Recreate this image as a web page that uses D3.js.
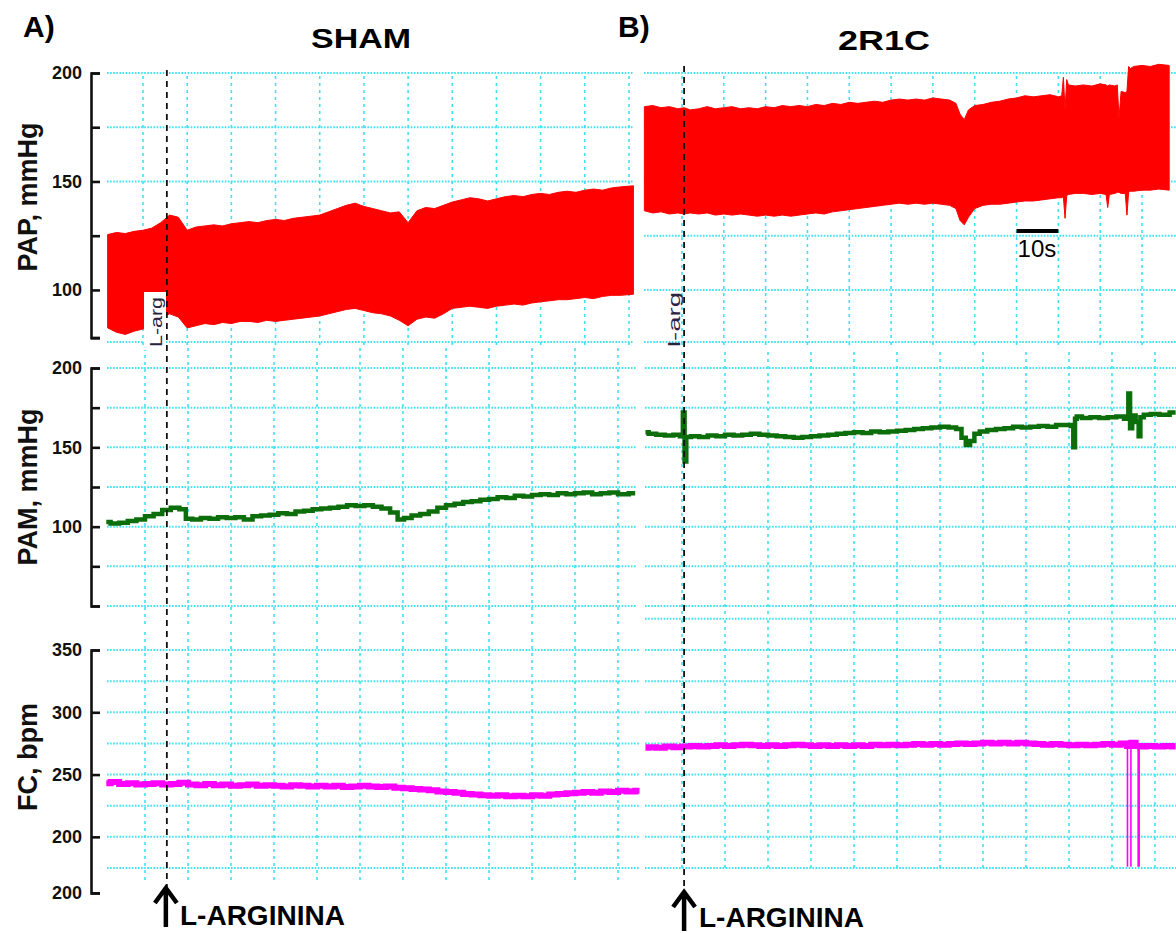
<!DOCTYPE html>
<html><head><meta charset="utf-8">
<script src="https://cdn.jsdelivr.net/npm/d3@7"></script>
<style>
html,body{margin:0;padding:0;background:#fff;}
svg{display:block;font-family:"Liberation Sans",Arial,sans-serif;}
</style></head>
<body>
<svg id="chart" width="1176" height="933"></svg>
<script>
// ---------------- DATA ----------------
// Panel A (SHAM) – PAP envelope (mmHg), time in s
const papATime  = [-8,-6,-4,-2,0,2,4,6,8,10,12,14,16,18,20,22,24,26,28,30,32,34,36,38,40,42,44,46,48,50,52,54,56,58,60,62,64,66,68,70,72,74,76,78,80,82,84,86,88,90,92,94,96,98,100,102,104,106,108,111];
const papAUpper = [125.5,126.5,126,127,127.5,128.5,131,134.5,133.5,127.5,129,129.5,130,129.5,130.5,131,131.5,131,132,132.5,132,133,133.5,134,134.5,136,137.5,139,140,138.5,137.5,136.5,135.5,136,131,136.5,138,137.5,139,140.5,141.5,142.5,142,141,142,143,143.5,143,144,144.5,144,145,145.5,145,146,146.5,146,147,147.5,148];
const papALower = [82.5,80.5,79.5,81,82,83.5,86.5,89,87.5,82.5,83.5,84.5,84,85,84.5,85.5,85.5,85,86,85.5,86,86.5,87,87.5,88,89,90,91,91.5,90.5,89.5,89,88,86,83.5,86.5,87.5,87,89,91.5,92,92.5,92,91.5,92.5,93,93.5,93,94,94.5,95,95.5,95.5,96,96.5,96,97,97.5,97.5,98];

// Panel B (2R1C) – PAP envelope
const papBTime  = [-9,-7,-5,-3,-1,0.5,2,4,6,8,10,12,14,16,18,20,22,24,26,28,30,32,34,36,38,40,42,44,46,48,50,52,54,56,58,60,62,64,65.5,66.5,67.5,68.5,70,72,74,76,78,80,82,84,86,88,90,90.8,91.2,91.6,92,92.4,94,96,98,100,101.4,101.8,102.2,103.5,104.1,104.5,105,106,106.4,106.8,107.2,108,110,112,114,116.5];
const papBUpper = [184.5,185,184,184.5,183.5,184,183,183.5,184.5,183.5,184,184.5,183.5,184,183.5,184.5,184,185,184.5,185,184.5,185.5,185,186,185.5,186.5,186,186.5,187,186.5,187.5,188,187.5,188,187.5,188.5,188,187.5,186,181,178.5,183,185,185.5,186.5,187,188,188.5,189.5,189,189.5,190,189,189.5,198,183,197,194.5,194,194.5,194,195,194.5,194,194.5,194,194.5,179,191.5,191,191.5,203,202,203,203.5,203,204,203.5];
const papBLower = [136.5,135.5,136,135,135.5,135,135.5,135,135.5,134.5,135,134.5,135,134.5,134,134.5,134,134.5,134,134.5,135,135.5,135,136,136.5,137,137.5,138,138.5,139,139.5,140,139.5,140,139.5,140,139.5,139,137.5,132,130,133.5,137.5,139,139.5,139.5,140,140.5,141,141,141.5,142,142.5,142.5,143,133,143.5,144,144.5,144.5,144,144.5,144,138,144,144.5,145,145,144.5,144.5,134.5,145,145.5,145.5,146,146,146.5,146];

// Panel A – PAM (mmHg)
const pamATime  = [-9,-7,-5,-3,-1,1,3,5,7,9,10,12,14,16,18,20,22,24,26,28,30,32,34,36,38,40,42,44,46,48,50,52,54,56,58,59.5,61,63,65,67,69,71,73,75,77,79,81,83,85,87,89,91,93,95,97,99,101,103,105,107,109,111,114];
const pamAValue = [103,102,102.5,103.5,104.5,106.5,108,110.5,112,111,105,104.5,105.5,105,106,105.5,106,104.5,106.5,107,107.5,108.5,108,109.5,110,111,111.5,112,112.5,113.5,113,113.5,112.5,111.5,109,104.5,105.5,107,108,109.5,112,113.5,114.5,115.5,116,117,117.5,118.5,118,119.5,119,120,120.5,120,121,120.5,121,121.5,120.5,121,121.5,120.5,121];

// Panel B – PAM
const pamBTime  = [-8.5,-7,-5,-3,-1,0,0.4,0.8,1.2,3,5,7,9,11,13,15,17,19,21,23,25,27,29,31,33,35,37,39,41,43,45,47,49,51,53,55,57,59,61,63,64.5,65.5,66.5,67.5,68.5,70,72,74,76,78,80,82,84,86,88,90,90.8,91.2,91.6,92,94,96,98,100,102,103.6,104,104.4,105,106,106.4,106.8,108,110,112,114.8];
const pamBValue = [159.5,158.5,158,157.5,158,157,172,141,156.5,157,156.5,157.5,157,158,157.5,158,158.5,158,157.5,157,156.5,156,156.5,157,157.5,158,158.5,159,159.5,159,160,159.5,160,160.5,161,161.5,162,162.5,163,162.5,161.5,156,151.5,154,158.5,160,161,161.5,162,163,162.5,163,163.5,163,164,164,163.5,150,168,169.5,168.5,169,168.5,169,169.5,168,184,162,170,166,157,169,170.5,171,170.5,172];

// Panel A – FC (bpm)
const fcATime  = [-9,-7,-5,-3,-1,1,3,5,7,9,11,13,15,17,19,21,23,25,27,29,31,33,35,37,39,41,43,45,47,49,51,53,55,57,59,61,63,65,67,69,71,73,75,77,79,81,83,85,87,89,91,93,95,97,99,101,103,105,107,109,111,113,115];
const fcAValue = [243,244,242.5,243,242,242.5,243,242,242.5,243.5,242,241.5,242.5,241.5,242,241,241.5,242,241,241.5,241,240.5,241.5,241,240.5,241,240.5,241,240,240.5,241,240.5,240,240.5,239.5,239,238.5,238,237.5,236.5,236,235.5,234.5,234,233.5,233,233.5,232.5,233,232.5,233.5,233,234,234.5,235,235.5,236,235.5,236.5,236,237,236.5,237];

// Panel B – FC
const fcBTime  = [-8.5,-7,-5,-3,-1,1,3,5,7,9,11,13,15,17,19,21,23,25,27,29,31,33,35,37,39,41,43,45,47,49,51,53,55,57,59,61,63,65,67,69,71,73,75,77,79,81,83,85,87,89,91,93,95,97,99,101,103,104,105,106,107,109,111,113,114.8];
const fcBValue = [271.5,272,271.5,272.5,272,272.5,273,272.5,273,273.5,273,273.5,274,273.5,273,273.5,273,273.5,274,273.5,273,273.5,273,273.5,273,273.5,273,274,273.5,274,273.5,274,274.5,274,274.5,274,274.5,275,274.5,275,275.5,275,275.5,275,275.5,275,274.5,274,274.5,274,273.5,274,273.5,274,274.5,274,275,273,275.5,273,272.5,273,272.5,273,272.5];
const fcBDropTime = [103.6, 104.4, 106.2];
const fcBDropWidth = [1.6, 1.6, 2.6];
const fcDropBottom = 176;

// Axis ticks / labels
const papTicks = [200,175,150,125,100,78];
const papLabels = ["200","","150","","100",""];
const papGrid = [200,175,150,125,100,76];
const pamTicks = [200,175,150,125,100,75,50];
const pamLabels = ["200","","150","","100","",""];
const fcTicks = [350,300,250,200,155];
const fcLabels = ["350","300","250","200","200"];
const fcGridA = [350,325,300,275,250,225,200,175];
const fcGridB = [375,350,325,300,275,250,225,200,175];
const timeGrid = [0,10,20,30,40,50,60,70,80,90,100,110];
const eventA = 5.4, eventB = 0.5;
const scaleBar = [80, 90];

// ---------------- DRAWING ----------------
const svg = d3.select("#chart");
const FONT = '"Liberation Sans",Arial,sans-serif';
const GRID = "#3fe2f2";

const yPAP = d3.scaleLinear().domain([76,200]).range([342,73]);
const yPAM = d3.scaleLinear().domain([50,200]).range([606,368]);
const yFC  = d3.scaleLinear().domain([175,350]).range([868,650]);

const xTopA = d3.scaleLinear().domain([0,110]).range([143,629]);
const xLowA = d3.scaleLinear().domain([0,110]).range([145,618]);
const xTopB = d3.scaleLinear().domain([0,110]).range([682,1142]);
const xLowB = d3.scaleLinear().domain([0,110]).range([682,1155]);

function grid(xs, ys, hVals, x0, x1, vy0, vy1){
  const g = svg.append("g");
  g.selectAll(null).data(hVals).join("line")
    .attr("x1",x0).attr("x2",x1).attr("y1",d=>ys(d)).attr("y2",d=>ys(d))
    .attr("stroke",GRID).attr("stroke-width",2).attr("stroke-dasharray","1.6,1.5");
  g.selectAll(null).data(timeGrid).join("line")
    .attr("x1",d=>xs(d)).attr("x2",d=>xs(d)).attr("y1",vy0).attr("y2",vy1)
    .attr("stroke",GRID).attr("stroke-width",1.6).attr("stroke-dasharray","3,4");
}
grid(xTopA, yPAP, papGrid, 107, 633, 76, 346);
grid(xLowA, yPAM, pamTicks, 107, 637, 348, 628);
grid(xLowA, yFC, fcGridA, 107, 640, 632, 880);
grid(xTopB, yPAP, papGrid, 644, 1176, 76, 346);
grid(xLowB, yPAM, pamTicks, 645, 1176, 352, 615);
grid(xLowB, yFC, fcGridB, 645, 1176, 620, 868);

// PAP red envelopes
function envelope(xs, T, U, L){
  const data = T.map((t,i)=>({t, u:U[i], l:L[i]}));
  svg.append("path").datum(data)
    .attr("d", d3.area().x(d=>xs(d.t)).y0(d=>yPAP(d.l)).y1(d=>yPAP(d.u)))
    .attr("fill","#ff0000").attr("stroke","#ff0000").attr("stroke-width",1);
}
envelope(xTopA, papATime, papAUpper, papALower);
envelope(xTopB, papBTime, papBUpper, papBLower);

// PAM green and FC magenta traces
function trace(xs, ys, T, V, color, w){
  svg.append("path").datum(T.map((t,i)=>({t, v:V[i]})))
    .attr("d", d3.line().x(d=>xs(d.t)).y(d=>ys(d.v)).curve(d3.curveStep))
    .attr("fill","none").attr("stroke",color).attr("stroke-width",w)
    .attr("stroke-linejoin","miter");
}
trace(xLowA, yPAM, pamATime, pamAValue, "#0b6e0b", 4.5);
trace(xLowB, yPAM, pamBTime, pamBValue, "#0b6e0b", 4.5);
trace(xLowA, yFC, fcATime, fcAValue, "#ff00ff", 6);
trace(xLowB, yFC, fcBTime, fcBValue, "#ff00ff", 6);
svg.selectAll(null).data(fcBDropTime).join("line")
  .attr("x1",d=>xLowB(d)).attr("x2",d=>xLowB(d))
  .attr("y1",yFC(273)).attr("y2",yFC(fcDropBottom))
  .attr("stroke","#ff00ff").attr("stroke-width",(d,i)=>fcBDropWidth[i]);

// event dashed lines
svg.append("line").attr("x1",xTopA(eventA)).attr("x2",xTopA(eventA)).attr("y1",70).attr("y2",888)
  .attr("stroke","#111").attr("stroke-width",1.8).attr("stroke-dasharray","6,5");
svg.append("line").attr("x1",xTopB(eventB)).attr("x2",xTopB(eventB)).attr("y1",66).attr("y2",892)
  .attr("stroke","#111").attr("stroke-width",1.8).attr("stroke-dasharray","6,5");

// L-arg labels
svg.append("rect").attr("x",144).attr("y",292).attr("width",22).attr("height",58).attr("fill","#fff");
svg.append("text").attr("transform",`translate(162,347) rotate(-90)`)
  .attr("font-family",FONT).attr("font-size",16.5).attr("fill","#2a2340")
  .attr("textLength",50).attr("lengthAdjust","spacingAndGlyphs").text("L-arg");
svg.append("text").attr("transform",`translate(680,347) rotate(-90)`)
  .attr("font-family",FONT).attr("font-size",16.5).attr("fill","#2a2340")
  .attr("textLength",55).attr("lengthAdjust","spacingAndGlyphs").text("l-arg");

// Axes (left)
function axis(scale, ticks, labels, lo, hi){
  const s = scale.copy().domain([lo,hi]).range([scale(lo),scale(hi)]);
  const ax = d3.axisLeft(s).tickValues(ticks).tickSizeInner(-9).tickSizeOuter(-9).tickPadding(9)
    .tickFormat((d,i)=>labels[i]);
  const g = svg.append("g").attr("transform","translate(91,0)").call(ax);
  g.selectAll("path,line").attr("stroke","#111").attr("stroke-width",2.6);
  g.selectAll("text").attr("font-family",FONT).attr("font-size",18).attr("font-weight","bold").attr("fill","#111");
}
axis(yPAP, papTicks, papLabels, 78, 200);
axis(yPAM, pamTicks, pamLabels, 50, 200);
axis(yFC, fcTicks, fcLabels, 155, 350);

// Y titles
const yTitles = [["PAP, mmHg",197],["PAM, mmHg",487],["FC, bpm",757]];
yTitles.forEach(([t,y])=>{
  svg.append("text").attr("transform",`translate(37,${y}) rotate(-90)`)
    .attr("text-anchor","middle").attr("font-family",FONT).attr("font-size",27)
    .attr("font-weight","bold").attr("fill","#111").text(t);
});

// Panel titles
svg.append("text").attr("x",23).attr("y",37).attr("font-family",FONT).attr("font-size",30).attr("font-weight","bold").text("A)");
svg.append("text").attr("x",618).attr("y",37).attr("font-family",FONT).attr("font-size",30).attr("font-weight","bold").text("B)");
svg.append("text").attr("x",311).attr("y",48).attr("font-family",FONT).attr("font-size",28).attr("font-weight","bold")
  .attr("textLength",100).attr("lengthAdjust","spacingAndGlyphs").text("SHAM");
svg.append("text").attr("x",838).attr("y",50).attr("font-family",FONT).attr("font-size",28).attr("font-weight","bold")
  .attr("textLength",92).attr("lengthAdjust","spacingAndGlyphs").text("2R1C");

// scale bar
svg.append("line").attr("x1",xTopB(scaleBar[0])).attr("x2",xTopB(scaleBar[1])).attr("y1",231).attr("y2",231)
  .attr("stroke","#000").attr("stroke-width",4);
svg.append("text").attr("x",xTopB(scaleBar[0])+1).attr("y",257).attr("font-family",FONT).attr("font-size",24).text("10s");

// arrows + L-ARGININA
function arrow(x, top, bottom, tx, ty){
  svg.append("path").attr("d",`M${x},${bottom}V${top+2}M${x-11},${top+16}L${x},${top+1}L${x+11},${top+16}`)
    .attr("fill","none").attr("stroke","#000").attr("stroke-width",4.5);
  svg.append("text").attr("x",tx).attr("y",ty).attr("font-family",FONT).attr("font-size",28)
    .attr("font-weight","bold").text("L-ARGININA");
}
arrow(xTopA(eventA)-1, 887, 927, 180, 925);
arrow(xTopB(eventB), 891, 931, 699, 927);
</script>
</body></html>
